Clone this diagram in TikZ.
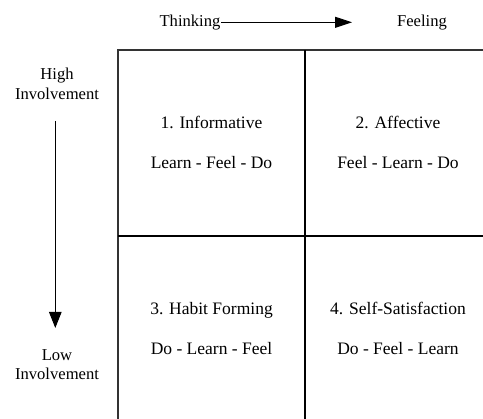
\documentclass[tikz,border=0pt]{standalone}
\usepackage{fontspec}
\setmainfont{Liberation Serif}
\usetikzlibrary{arrows.meta}

\tikzset{
  axislabel/.style={anchor=base, inner sep=0pt, font=\fontsize{16.6}{19}\selectfont},
  celltext/.style={anchor=base, inner sep=0pt, font=\fontsize{17.5}{20}\selectfont},
  outerline/.style={line width=1.1pt, draw=black!80},
  innerline/.style={line width=2.4pt, draw=black},
  axisarrow/.style={line width=0.9pt, draw=black},
}

\begin{document}
\begin{tikzpicture}[x=1pt, y=-1pt]
  \useasboundingbox (0,0) rectangle (483,419);
  \clip (0,0) rectangle (483,419);

  % axis headings
  \node[axislabel] (think) at (190,27) {Thinking};
  \node[axislabel] (feel)  at (422,27) {Feeling};
  \node[axislabel] (high1) at (57,80)  {High};
  \node[axislabel] (high2) at (57,99.5) {Involvement};
  \node[axislabel] (low1)  at (57,361) {Low};
  \node[axislabel] (low2)  at (57,380) {Involvement};

  % axis arrows
  \coordinate (hstart) at (221,22.3);
  \coordinate (htip)   at (352,22.3);
  \coordinate (vstart) at (55.3,121);
  \coordinate (vtip)   at (55.3,328);
  \draw[axisarrow, -{Triangle[length=17pt,width=11pt]}] (hstart) -- (htip);
  \draw[axisarrow, -{Triangle[length=16pt,width=12.5pt]}] (vstart) -- (vtip);

  % grid
  \coordinate (tl) at (118,50);
  \coordinate (tr) at (500,50);
  \coordinate (bl) at (118,440);
  \coordinate (mt) at (305,50);
  \coordinate (mb) at (305,440);
  \coordinate (ml) at (118,236);
  \coordinate (mr) at (500,236);
  \draw[outerline] (bl) -- (tl) -- (tr);
  \draw[innerline] (mt) -- (mb);
  \draw[innerline] (ml) -- (mr);

  % quadrant contents
  \node[celltext] (q1a) at (211.5,129) {1. Informative};
  \node[celltext] (q1b) at (211.5,169) {Learn - Feel - Do};
  \node[celltext] (q2a) at (398,129)   {2. Affective};
  \node[celltext] (q2b) at (398,169)   {Feel - Learn - Do};
  \node[celltext] (q3a) at (211.5,315) {3. Habit Forming};
  \node[celltext] (q3b) at (211.5,355) {Do - Learn - Feel};
  \node[celltext] (q4a) at (398,315)   {4. Self-Satisfaction};
  \node[celltext] (q4b) at (398,355)   {Do - Feel - Learn};
\end{tikzpicture}
\end{document}
